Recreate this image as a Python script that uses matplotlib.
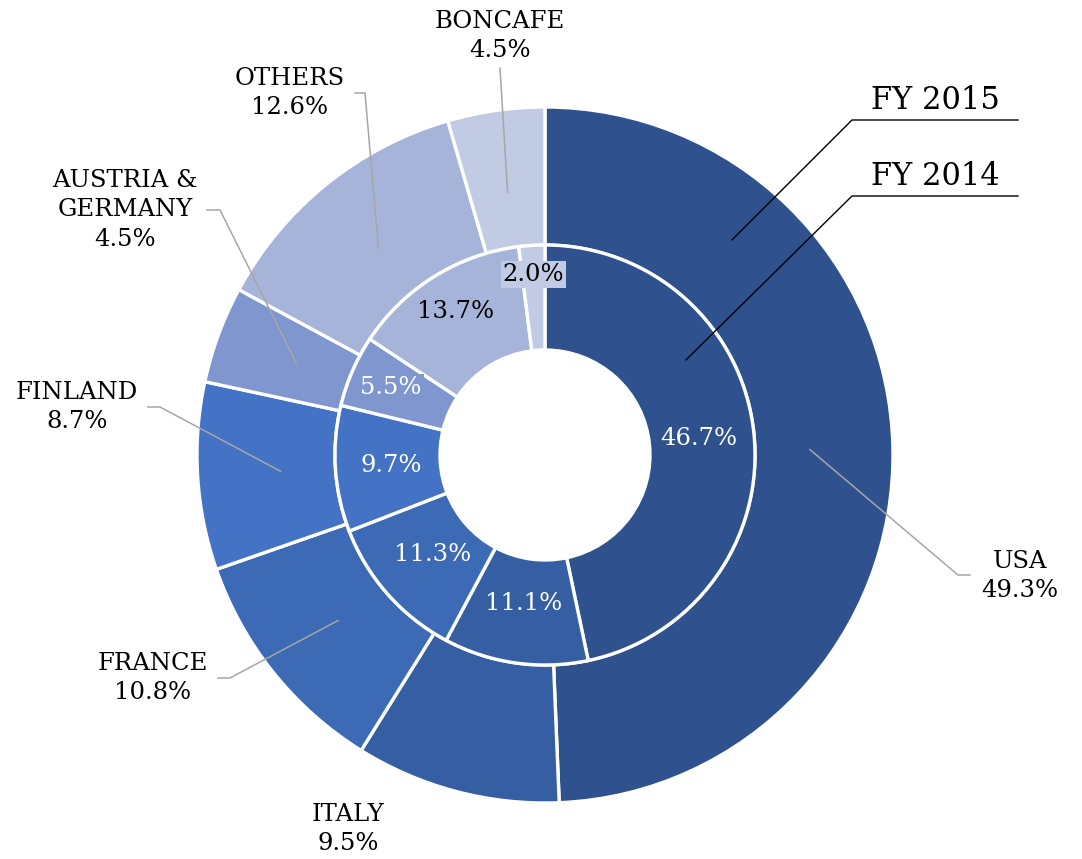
import numpy as np
import matplotlib.pyplot as plt

# data
regions = ['USA', 'ITALY', 'FRANCE', 'FINLAND', 'AUSTRIA &\nGERMANY', 'OTHERS', 'BONCAFE']
fy2015 = [49.3, 9.5, 10.8, 8.7, 4.5, 12.6, 4.5]
fy2014 = [46.7, 11.1, 11.3, 9.7, 5.5, 13.7, 2.0]
colors = ['#2F528F', '#355EA3', '#3D6AB5', '#4472C4', '#7F96CF', '#A7B4D9', '#C2CBE4']

W, H = 1082, 859
cx, cy = 545, H - 455
R_out, R_mid, R_in = 348, 210, 105

plt.rcParams['font.family'] = 'DejaVu Serif'
fig = plt.figure(figsize=(W / 100, H / 100), dpi=100)
ax = fig.add_axes([0, 0, 1, 1])

wp = dict(edgecolor='white', linewidth=2.4)
ax.pie(fy2015, colors=colors, radius=R_out, center=(cx, cy), startangle=90,
       counterclock=False, wedgeprops=dict(width=R_out - R_mid, **wp))
ax.pie(fy2014, colors=colors, radius=R_mid, center=(cx, cy), startangle=90,
       counterclock=False, wedgeprops=dict(width=R_mid - R_in, **wp))
ax.set_xlim(0, W)
ax.set_ylim(0, H)
ax.set_aspect('auto')
ax.axis('off')


def mid_angles(vals):
    c = np.cumsum([0] + list(vals))
    mids = (c[:-1] + c[1:]) / 2 / sum(vals)
    return np.deg2rad(90 - mids * 360)


def polar(ang, r):
    return cx + r * np.cos(ang), cy + r * np.sin(ang)


FS = 17.5
gray = '#A6A6A6'

# inner ring labels (FY 2014)
inner_r = [155, 150, 150, 154, 168, 169, 181]
inner_tc = ['white', 'white', 'white', 'white', 'white', 'black', 'black']
inner_box = [None, None, None, None, colors[4], None, colors[6]]
for a, r, v, tc, bx in zip(mid_angles(fy2014), inner_r, fy2014, inner_tc, inner_box):
    x, y = polar(a, r)
    kw = {}
    if bx:
        kw['bbox'] = dict(boxstyle='square,pad=0.08', fc=bx, ec='none')
    ax.text(x, y, f'{v:.1f}%', ha='center', va='center', fontsize=FS, color=tc, **kw)

# outer ring labels (FY 2015) with leader lines
label_xy = [(1020, 576), (348, 829), (153, 678), (77, 407), (125, 210), (290, 93), (500, 36)]
elbow = [(958, 575), None, (230, 678), (160, 407), (220, 210), (365, 93), None]
stub = [(970, 575), None, (218, 678), (148, 407), (207, 210), (355, 93), None]
for i, (a, v) in enumerate(zip(mid_angles(fy2015), fy2015)):
    lx, ly = label_xy[i]
    ax.text(lx, H - ly, f'{regions[i]}\n{v:.1f}%', ha='center', va='center',
            fontsize=FS, color='black', linespacing=1.38)
    sx, sy = polar(a, 265)
    if elbow[i] is not None:
        ex, ey = elbow[i]
        tx, ty = stub[i]
        ax.plot([sx, ex, tx], [sy, H - ey, H - ty], color=gray, lw=1.1)
    elif i == 6:
        ax.plot([sx, 500], [sy, H - 68], color=gray, lw=1.1)

# series name callouts
for name, ang, r, y in [('FY 2015', 49, 285, 120), ('FY 2014', 34, 170, 196)]:
    sx, sy = polar(np.deg2rad(ang), r)
    ax.plot([sx, 852, 1018], [sy, H - y, H - y], color='black', lw=1.0)
    ax.text(935, H - y + 4, name, ha='center', va='bottom', fontsize=22, color='black')

fig.savefig('out.png', dpi=100)
